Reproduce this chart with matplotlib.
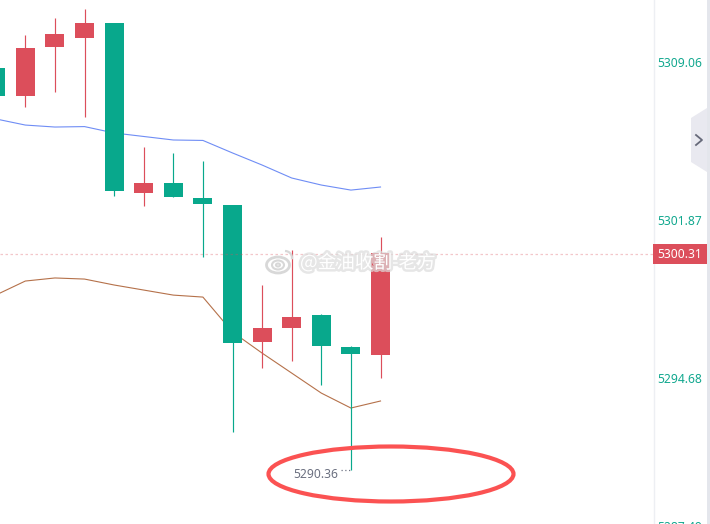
import matplotlib
matplotlib.use("Agg")
import matplotlib.pyplot as plt
import matplotlib.patheffects as pe
from matplotlib.patches import Arc, Ellipse, Polygon, Rectangle

# ---- data ----
slots = list(range(14))
opens  = [5308.79, 5307.51, 5309.74, 5310.15, 5310.84, 5303.10, 5303.55, 5302.87,
          5302.55, 5296.31, 5296.95, 5297.54, 5296.09, 5295.72]
closes = [5307.51, 5309.70, 5310.33, 5310.84, 5303.19, 5303.55, 5302.92, 5302.60,
          5296.27, 5296.95, 5297.45, 5296.13, 5295.77, 5300.37]
highs  = [5308.79, 5310.29, 5311.06, 5311.47, 5310.84, 5305.19, 5304.92, 5304.55,
          5302.55, 5298.91, 5300.50, 5297.59, 5296.13, 5301.09]
lows   = [5307.51, 5307.01, 5307.69, 5306.56, 5302.96, 5302.51, 5302.92, 5300.18,
          5292.22, 5295.13, 5295.45, 5294.36, 5290.49, 5294.68]
ma_blue = [5306.47, 5306.19, 5306.10, 5306.12, 5305.83, 5305.67, 5305.51, 5305.49,
           5304.92, 5304.37, 5303.78, 5303.46, 5303.23, 5303.37]
ma_brown = [5298.45, 5299.09, 5299.23, 5299.18, 5298.91, 5298.68, 5298.45, 5298.36,
            5296.77, 5295.81, 5294.90, 5293.99, 5293.31, 5293.63]
tick_values = [5309.06, 5301.87, 5294.68]
tick_labels = ["5309.06", "5301.87", "5294.68"]
clipped_label = "5287.49"
last_price = 5300.31
low_wick_end = 5290.49
low_label = "5290.36"
watermark = "@金油收割-老方"

UP, DOWN = "#dc4e5b", "#08a88c"
W, H = 710, 524
plt.rcParams["font.family"] = ["Noto Sans", "DejaVu Sans"]

fig = plt.figure(figsize=(W / 100, H / 100), dpi=100, facecolor="white")
ax = fig.add_axes([0, 0, 653 / W, 1])
ax.set_xlim(0.145, 0.145 + 653 / 29.6)
ax.set_ylim(5309.06 - 462 / 21.97, 5309.06 + 62 / 21.97)
ax.axis("off")

ax.plot(slots, ma_blue, color="#6f8df5", lw=0.8, zorder=1)
ax.plot(slots, ma_brown, color="#b5714a", lw=0.8, zorder=1)
for i, o, c, h, l in zip(slots, opens, closes, highs, lows):
    col = UP if c >= o else DOWN
    ax.plot([i, i], [l, h], color=col, lw=0.85, zorder=2, snap=True, solid_capstyle="butt")
    ax.add_patch(Rectangle((i - 0.32, min(o, c)), 0.64, abs(c - o), fc=col, ec="none", zorder=3))
ax.axhline(last_price, color=UP, alpha=0.32, lw=0.9, dashes=(2, 2), zorder=4)
ax.plot([11.66, 12], [low_wick_end, low_wick_end], color="#707585", lw=0.9, ls=(0, (1, 2)), zorder=2)

# overlay in pixel coordinates for the interface pieces
ov = fig.add_axes([0, 0, 1, 1], facecolor="none")
ov.set_xlim(0, W)
ov.set_ylim(H, 0)
ov.axis("off")
ov.text(338, 474.5, low_label, ha="right", va="center", color="#6b7080", fontsize=8.7)
ov.plot([653.5, 653.5], [0, H], color="#edeff3", lw=1, zorder=1)
ov.add_patch(Rectangle((707, 0), 3, H, fc="#e4e6ec", ec="none"))
ov.add_patch(Polygon([(691, 118), (707, 108), (707, 172), (691, 162)], fc="#e9e9f0", ec="none"))
ov.plot([696, 702, 696], [135, 140, 145], color="#666979", lw=1.3)
for v, s in zip(tick_values, tick_labels):
    py = 63.2 + (5309.06 - v) * 21.97
    ov.text(657.5, py, s, color="#12a88f", fontsize=8.7, va="center", ha="left")
ov.text(657.5, 527.5, clipped_label, color="#12a88f", fontsize=8.7, va="center", ha="left")
ov.add_patch(Rectangle((653, 244), 54, 20, fc=UP, ec="none", zorder=3))
ov.text(657.5, 255, "%.2f" % last_price, color="white", fontsize=8.7, va="center", ha="left", zorder=4)

ov.add_patch(Ellipse((391, 474), 245, 55, fc="none", ec="#fb5252", lw=3))

# watermark
halo = [pe.withStroke(linewidth=3.5, foreground="#dcdcdc", alpha=0.7)]
ov.text(300, 262.5, watermark, family=["Noto Sans CJK SC", "DejaVu Sans"], fontsize=13.4,
        color="white", va="center", ha="left", path_effects=halo, zorder=6)
for w, h_, lw_ in [(23, 16, 2.0), (12, 9, 1.5), (4, 3, 1.5)]:
    ov.add_patch(Ellipse((278, 265), w, h_, fc="none", ec="#d8d8d8", lw=lw_, zorder=6))
ov.add_patch(Arc((285, 258), 14, 14, theta1=-90, theta2=10, ec="#d8d8d8", lw=1.6, zorder=6))

fig.savefig("out.png", dpi=100, facecolor="white")
